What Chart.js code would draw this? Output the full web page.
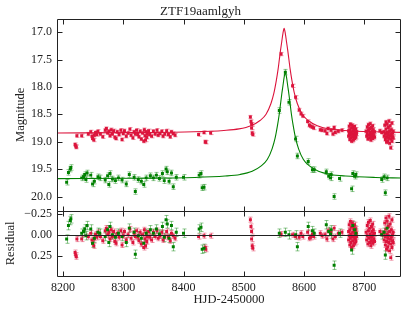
<!DOCTYPE html>
<html>
<head>
<meta charset="utf-8">
<script src="https://cdn.jsdelivr.net/npm/chart.js@4.4.0/dist/chart.umd.min.js"></script>
<style>
  html, body { margin: 0; padding: 0; background: #fff; }
</style>
</head>
<body>
<canvas id="lc" width="407" height="313"></canvas>
<script>
// ZTF19aamlgyh light curve: r band (crimson) and g band (green), fit + residuals

const xTicks = [8200, 8300, 8400, 8500, 8600, 8700];
const magTicks = [17.0, 17.5, 18.0, 18.5, 19.0, 19.5, 20.0];
const resTicks = [-0.25, 0, 0.25];

const redErr = 0.03;
const greenErr = 0.05;

// r band photometry
const redT = [
  8220, 8221, 8222, 8223, 8231, 8242, 8246, 8248, 8249, 8251, 8252, 8254, 8256, 8258,
  8262, 8266, 8270, 8272, 8274, 8276, 8278, 8280, 8282, 8284, 8286, 8288, 8290, 8293,
  8296, 8298, 8300, 8302, 8305, 8308, 8311, 8313, 8316, 8318, 8320, 8322, 8324, 8326,
  8328, 8330, 8332, 8334, 8335, 8336, 8337, 8338, 8339, 8340, 8342, 8344, 8347, 8350,
  8353, 8356, 8358, 8361, 8364, 8366, 8369, 8372, 8375, 8378, 8380, 8383, 8386,
  8425, 8434, 8436, 8437, 8445,
  8511, 8512, 8513, 8513, 8514, 8515,
  8562, 8581, 8586, 8592, 8595, 8598, 8606, 8609, 8611, 8614, 8616, 8627, 8630, 8635,
  8638, 8640, 8645, 8648, 8650, 8652, 8657, 8663,
  8674, 8674, 8675, 8675, 8676, 8676, 8677, 8677, 8678, 8678, 8679, 8679, 8680, 8680,
  8681, 8681, 8682, 8682, 8683, 8683, 8684, 8684, 8685, 8685, 8686, 8686, 8687, 8687,
  8703, 8704, 8705, 8705, 8706, 8707, 8707, 8708, 8709, 8709, 8710, 8710, 8711, 8711,
  8712, 8712, 8713, 8713, 8714, 8714, 8715, 8715, 8716, 8717, 8717,
  8726, 8729,
  8733, 8733, 8734, 8735, 8735, 8736, 8736, 8737, 8737, 8738, 8738, 8739, 8739, 8740,
  8740, 8741, 8741, 8742, 8742, 8743, 8743, 8744, 8744, 8745, 8745, 8746, 8746, 8747,
  8747, 8748, 8748
];
const redMag = [
  19.05, 19.08, 19.10, 18.89, 18.89, 18.86, 18.82, 18.90, 18.94, 18.97, 18.88, 18.83, 18.87, 18.81,
  18.86, 18.91, 18.79, 18.76, 18.84, 18.81, 18.89, 18.78, 18.86, 18.80, 18.92, 18.94, 18.82, 18.87,
  18.79, 18.96, 18.85, 18.80, 18.90, 18.84, 18.77, 18.88, 18.93, 18.82, 18.86, 18.79, 18.87, 18.91,
  18.81, 18.95, 18.84, 18.99, 18.78, 18.89, 18.97, 18.82, 18.92, 18.86, 18.80, 18.87, 18.90, 18.81,
  18.86, 18.79, 18.88, 18.85, 18.81, 18.90, 18.86, 18.80, 18.87, 18.91, 18.82, 18.85, 18.88,
  18.87, 18.83, 19.00, 19.01, 18.84,
  18.55, 18.63, 18.68, 18.75, 18.84, 18.87,
  17.40, 17.98, 18.19, 18.42, 18.49, 18.53, 18.63, 18.70, 18.72, 18.73, 18.75, 18.78, 18.79, 18.80,
  18.85, 18.76, 18.79, 18.86, 18.74, 18.83, 18.81, 18.79,
  18.80, 18.90, 18.72, 18.85, 18.96, 18.78, 18.88, 18.68, 18.83, 18.93, 18.75, 18.99, 18.86, 18.70,
  18.91, 18.81, 18.97, 18.74, 18.87, 18.79, 18.94, 18.72, 18.84, 18.89, 18.77, 18.92, 18.82, 18.86,
  18.81, 18.90, 18.73, 18.85, 18.95, 18.69, 18.79, 18.88, 18.76, 18.93, 18.83, 18.67, 18.87, 18.97,
  18.74, 18.91, 18.80, 18.86, 18.71, 18.94, 18.84, 18.78, 18.89, 18.82, 18.92,
  18.80, 18.83,
  18.82, 18.90, 18.70, 18.86, 18.96, 18.64, 18.77, 18.92, 19.01, 18.83, 18.68, 18.88, 18.98, 18.74,
  18.85, 18.93, 18.62, 18.80, 19.03, 18.89, 18.71, 18.95, 19.11, 18.78, 18.87, 18.99, 18.66, 18.84,
  18.91, 18.81, 18.93
];
const redRes = [
  0.21, 0.24, 0.26, 0.05, 0.05, 0.02, -0.02, 0.06, 0.10, 0.13, 0.04, -0.01, 0.03, -0.03,
  0.02, 0.07, -0.05, -0.08, 0.00, -0.03, 0.05, -0.06, 0.02, -0.04, 0.08, 0.10, -0.02, 0.03,
  -0.05, 0.12, 0.01, -0.04, 0.06, 0.00, -0.07, 0.04, 0.09, -0.02, 0.02, -0.05, 0.03, 0.07,
  -0.03, 0.11, 0.00, 0.15, -0.06, 0.05, 0.13, -0.02, 0.08, 0.02, -0.04, 0.03, 0.06, -0.03,
  0.02, -0.05, 0.04, 0.01, -0.03, 0.06, 0.02, -0.04, 0.03, 0.07, -0.02, 0.01, 0.04,
  0.02, 0.01, 0.15, 0.17, 0.01,
  -0.18, -0.10, -0.04, 0.05, 0.13, 0.16,
  -0.01, 0.00, 0.02, 0.03, -0.02, 0.02, -0.03, 0.04, 0.03, -0.01, 0.02, -0.02, 0.01, 0.00,
  0.05, -0.05, -0.03, 0.05, -0.08, 0.02, -0.02, -0.03,
  -0.04, 0.06, -0.12, 0.01, 0.12, -0.06, 0.04, -0.16, -0.01, 0.09, -0.09, 0.15, 0.02, -0.14,
  0.07, -0.03, 0.13, -0.10, 0.03, -0.05, 0.10, -0.12, 0.00, 0.05, -0.07, 0.08, -0.02, 0.02,
  -0.03, 0.06, -0.11, 0.01, 0.11, -0.15, -0.05, 0.04, -0.08, 0.09, -0.01, -0.17, 0.03, 0.13,
  -0.10, 0.07, -0.04, 0.02, -0.13, 0.10, 0.00, -0.06, 0.05, -0.02, 0.08,
  -0.04, -0.01,
  -0.02, 0.06, -0.14, 0.02, 0.12, -0.20, -0.07, 0.08, 0.17, -0.01, -0.16, 0.04, 0.14, -0.10,
  0.01, 0.09, -0.22, -0.04, 0.19, 0.05, -0.13, 0.11, 0.27, -0.06, 0.03, 0.15, -0.18, 0.00,
  0.07, -0.03, 0.09
];

// g band photometry
const greenT = [
  8206, 8209, 8212, 8213, 8231, 8234, 8236, 8238, 8240, 8246, 8249, 8252, 8258, 8261,
  8270, 8274, 8276, 8278, 8282, 8287, 8292, 8298, 8305, 8310, 8318, 8320, 8325, 8330,
  8334, 8338, 8345, 8350, 8355, 8360, 8365, 8368, 8371, 8373, 8376, 8380, 8383, 8388,
  8400, 8426, 8429, 8431, 8434,
  8559, 8569, 8575, 8586, 8589, 8607, 8614, 8617, 8637, 8641, 8644, 8645, 8650, 8659,
  8679, 8681, 8684, 8686, 8729, 8733, 8735, 8738
];
const greenMag = [
  19.74, 19.56, 19.50, 19.47, 19.66, 19.64, 19.60, 19.69, 19.57, 19.61, 19.77, 19.72, 19.64, 19.66,
  19.70, 19.62, 19.78, 19.58, 19.68, 19.71, 19.66, 19.70, 19.77, 19.60, 19.65, 19.91, 19.69, 19.72,
  19.78, 19.66, 19.62, 19.66, 19.61, 19.67, 19.58, 19.71, 19.50, 19.55, 19.72, 19.57, 19.82, 19.65,
  19.65, 19.61, 19.58, 19.84, 19.83,
  18.43, 17.73, 18.28, 18.95, 19.26, 19.36, 19.51, 19.51, 19.55, 19.63, 19.66, 19.60, 20.00, 19.67,
  19.86, 19.58, 19.63, 19.60, 19.69, 19.64, 19.93, 19.66
];
const greenRes = [
  0.05, -0.11, -0.17, -0.19, -0.02, -0.04, -0.07, 0.01, -0.11, -0.07, 0.10, 0.04, -0.03, -0.02,
  0.02, -0.06, 0.09, -0.10, 0.00, 0.03, -0.02, 0.02, 0.09, -0.08, -0.03, 0.23, 0.01, 0.04,
  0.10, -0.02, -0.06, -0.02, -0.07, -0.01, -0.10, 0.03, -0.18, -0.13, 0.04, -0.11, 0.14, -0.03,
  -0.02, -0.07, -0.09, 0.17, 0.16,
  -0.02, -0.03, 0.00, 0.00, 0.14, -0.10, -0.05, -0.02, -0.12, -0.04, -0.01, -0.06, 0.36, -0.02,
  0.18, -0.11, -0.06, -0.02, 0.00, -0.03, 0.24, -0.08
];

// model curves
const redModelT = [8190, 8317, 8417, 8467, 8492, 8512, 8527, 8537, 8545, 8550, 8554, 8557, 8559, 8561, 8563, 8565,
  8567, 8569, 8571, 8573, 8575, 8577, 8580, 8584, 8589, 8597, 8607, 8622, 8642, 8667, 8717, 8761];
const redModelMag = [18.841, 18.834, 18.819, 18.794, 18.766, 18.708, 18.613, 18.498, 18.307, 18.115, 17.886, 17.676,
  17.504, 17.332, 17.179, 17.026, 16.930, 17.026, 17.179, 17.332, 17.504, 17.676, 17.886, 18.115, 18.307, 18.498,
  18.613, 18.708, 18.766, 18.794, 18.819, 18.830];
const greenModelT = [8190, 8319, 8419, 8469, 8494, 8514, 8529, 8539, 8547, 8552, 8556, 8559, 8561, 8563, 8565, 8567,
  8569, 8571, 8573, 8575, 8577, 8579, 8582, 8586, 8591, 8599, 8609, 8624, 8644, 8669, 8719, 8761];
const greenModelMag = [19.673, 19.667, 19.652, 19.626, 19.597, 19.539, 19.442, 19.325, 19.130, 18.936, 18.703, 18.489,
  18.314, 18.138, 17.983, 17.827, 17.730, 17.827, 17.983, 18.138, 18.314, 18.489, 18.703, 18.936, 19.130, 19.325,
  19.442, 19.539, 19.597, 19.626, 19.652, 19.662];

const RED = '#dc143c';
const GREEN = '#008000';
const INK = '#222';

Chart.defaults.font.family = "'Liberation Serif', 'Times New Roman', serif";
Chart.defaults.font.size = 12;
Chart.defaults.color = INK;

const pts = (t, v) => t.map((x, i) => ({ x: x, y: v[i] }));
const fixTicks = list => scale => { scale.ticks = list.map(v => ({ value: v })); };

// vertical error bars with small caps, drawn under the markers
const errorBars = {
  id: 'errorBars',
  beforeDatasetsDraw(chart) {
    const ctx = chart.ctx;
    chart.data.datasets.forEach((ds, i) => {
      if (!ds.err) return;
      const meta = chart.getDatasetMeta(i);
      const ys = chart.scales[ds.yAxisID];
      ctx.save();
      ctx.strokeStyle = ds.errColor;
      ctx.lineWidth = 1;
      ds.data.forEach((p, j) => {
        const px = Math.round(meta.data[j].x) + 0.5;
        const y1 = ys.getPixelForValue(p.y - ds.err);
        const y2 = ys.getPixelForValue(p.y + ds.err);
        ctx.beginPath();
        ctx.moveTo(px, y1); ctx.lineTo(px, y2);
        ctx.moveTo(px - 2, y1); ctx.lineTo(px + 2, y1);
        ctx.moveTo(px - 2, y2); ctx.lineTo(px + 2, y2);
        ctx.stroke();
      });
      ctx.restore();
    });
  }
};

// matplotlib-like boxed panels with inward ticks, plus the zero line of the residuals
const frames = {
  id: 'frames',
  afterDraw(chart) {
    const { ctx, chartArea: a, scales } = chart;
    const xs = scales.x;
    const L = Math.round(a.left) + 0.5, R = Math.round(a.right) - 0.5;
    const tl = 5;
    ctx.save();
    ctx.strokeStyle = INK;
    ctx.lineWidth = 1;
    const z = Math.round(scales.yr.getPixelForValue(0)) + 0.5;
    ctx.beginPath();
    ctx.moveTo(L, z); ctx.lineTo(R, z);
    ctx.stroke();
    [scales.y, scales.yr].forEach(s => {
      const T = Math.round(s.top) + 0.5, B = Math.round(s.bottom) + 0.5;
      ctx.beginPath();
      ctx.rect(L, T, R - L, B - T);
      xTicks.forEach(v => {
        const px = Math.round(xs.getPixelForValue(v)) + 0.5;
        ctx.moveTo(px, T); ctx.lineTo(px, T + tl);
        ctx.moveTo(px, B); ctx.lineTo(px, B - tl);
      });
      s.ticks.forEach(t => {
        const py = Math.round(s.getPixelForValue(t.value)) + 0.5;
        ctx.moveTo(L, py); ctx.lineTo(L + tl, py);
        ctx.moveTo(R, py); ctx.lineTo(R - tl, py);
      });
      ctx.stroke();
    });
    ctx.restore();
  }
};

const yCommon = {
  type: 'linear',
  position: 'left',
  stack: 'lc',
  reverse: true,
  grid: { display: false, drawTicks: false },
  border: { display: false },
  afterFit: s => { s.width = 57; }
};

new Chart(document.getElementById('lc'), {
  type: 'scatter',
  data: {
    datasets: [
      { data: pts(redT, redMag), yAxisID: 'y', err: redErr, errColor: 'rgba(220,20,60,0.45)',
        pointStyle: 'rect', pointRadius: 2.1, pointBorderWidth: 0, backgroundColor: RED },
      { data: pts(greenT, greenMag), yAxisID: 'y', err: greenErr, errColor: 'rgba(0,128,0,0.45)',
        pointStyle: 'rect', pointRadius: 2.1, pointBorderWidth: 0, backgroundColor: GREEN },
      { data: pts(redModelT, redModelMag), yAxisID: 'y', showLine: true, pointRadius: 0,
        borderColor: RED, borderWidth: 1.1, cubicInterpolationMode: 'monotone' },
      { data: pts(greenModelT, greenModelMag), yAxisID: 'y', showLine: true, pointRadius: 0,
        borderColor: GREEN, borderWidth: 1.1, cubicInterpolationMode: 'monotone' },
      { data: pts(greenT, greenRes), yAxisID: 'yr', err: greenErr, errColor: 'rgba(0,128,0,0.45)',
        pointStyle: 'rect', pointRadius: 2.1, pointBorderWidth: 0, backgroundColor: GREEN },
      { data: pts(redT, redRes), yAxisID: 'yr', err: redErr, errColor: 'rgba(220,20,60,0.45)',
        pointStyle: 'rect', pointRadius: 2.1, pointBorderWidth: 0, backgroundColor: RED }
    ]
  },
  options: {
    responsive: false,
    animation: false,
    devicePixelRatio: 1,
    layout: { padding: { left: 0, right: 6, top: 0, bottom: 0 } },
    plugins: {
      legend: { display: false },
      tooltip: { enabled: false },
      title: {
        display: true,
        text: 'ZTF19aamlgyh',
        color: INK,
        font: { size: 13, weight: 'normal' },
        padding: { top: 3.4, bottom: 0 }
      }
    },
    scales: {
      x: {
        type: 'linear',
        min: 8190,
        max: 8761,
        afterBuildTicks: fixTicks(xTicks),
        grid: { display: false, drawTicks: false },
        border: { display: false },
        ticks: { padding: 5, callback: v => String(v) },
        title: { display: true, text: 'HJD-2450000', font: { size: 12.5 }, padding: { top: 0, bottom: 6 } },
        afterFit: s => { s.height = 37; }
      },
      // stacked panels are laid out bottom-up in definition order: residuals first
      yr: Object.assign({}, yCommon, {
        stackWeight: 65,
        min: -0.286,
        max: 0.488,
        afterBuildTicks: fixTicks(resTicks),
        ticks: { padding: 5, callback: v => v.toFixed(2).replace('-', '\u2212') },
        title: { display: true, text: 'Residual', font: { size: 12.5 }, padding: { top: 3.5, bottom: 0 } }
      }),
      y: Object.assign({}, yCommon, {
        stackWeight: 191,
        min: 16.76,
        max: 20.26,
        afterBuildTicks: fixTicks(magTicks),
        ticks: { padding: 5, callback: v => v.toFixed(1) },
        title: { display: true, text: 'Magnitude', font: { size: 12.5 }, padding: { top: 13.5, bottom: 0 } }
      })
    }
  },
  plugins: [errorBars, frames]
});
</script>
</body>
</html>
